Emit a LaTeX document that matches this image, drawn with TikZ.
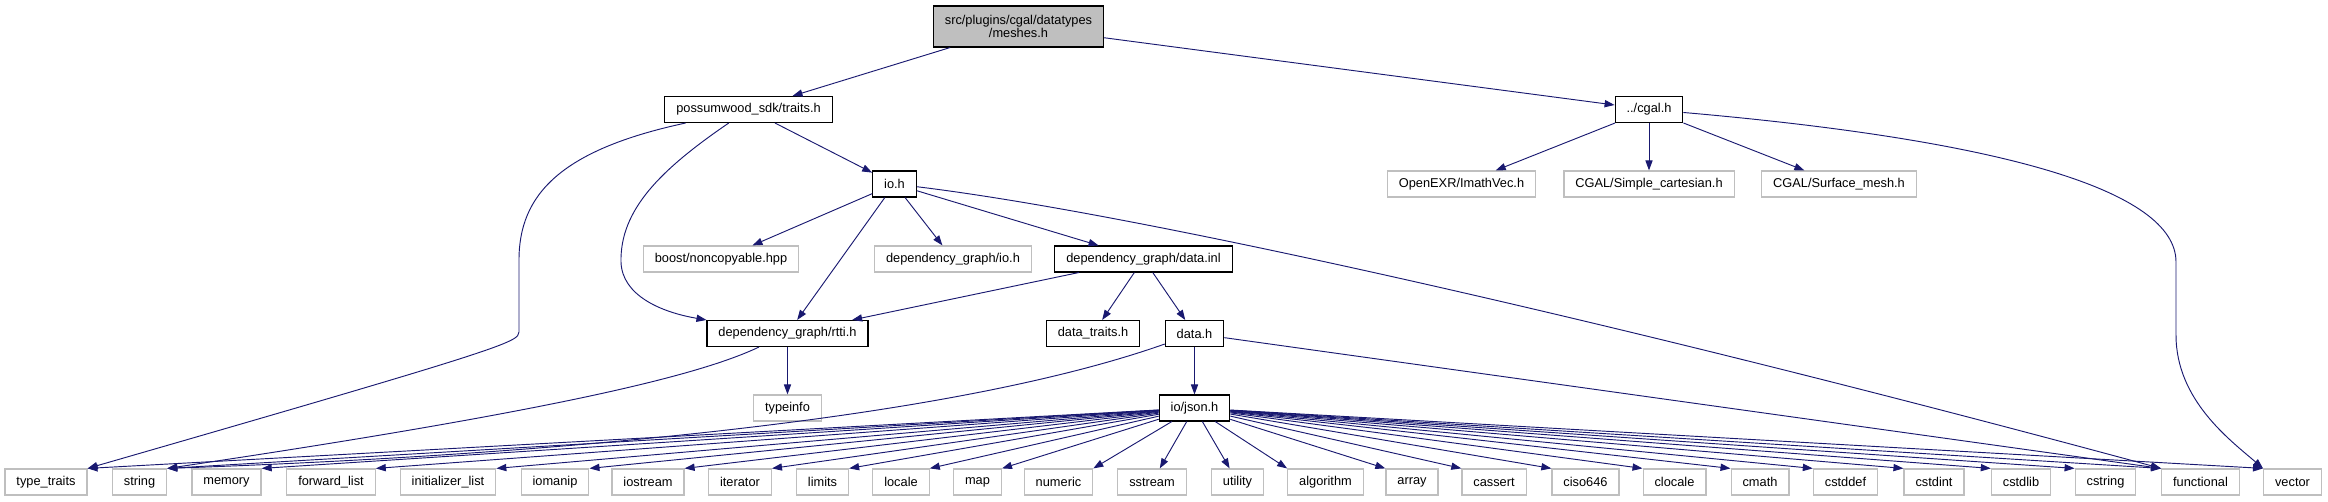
\documentclass[tikz,border=0pt]{standalone}
\usepackage{fontspec}
\setmainfont{Liberation Sans}
\usepackage{tikz}
\usetikzlibrary{arrows.meta}
\usepackage{xcolor}
\definecolor{edgeblue}{HTML}{191970}
\definecolor{greyline}{HTML}{BFBFBF}

\begin{document}
\begin{tikzpicture}[x={(0.75pt,0)}, y={(0,-0.75pt)},
  every node/.style={font=\fontsize{9.6}{10.2}\selectfont, inner xsep=8.6pt, inner ysep=0pt, minimum height=19.5pt},
  ext/.style={draw=greyline, fill=white, line width=0.9pt},
  doc/.style={draw=black, fill=white, line width=0.8pt},
  root/.style={draw=black, fill=greyline, line width=0.8pt, align=center, minimum height=30.75pt},
  dep/.style={draw=edgeblue, line width=0.7pt, -{Triangle[length=7.5pt,width=5.4pt]}}]
\useasboundingbox (0,0) rectangle (2328,501);
% top of the graph
\node[root] (meshes) at (1018.5,26.5) {src/plugins/cgal/datatypes\\/meshes.h};
\node[doc] (traits) at (748.5,109.5) {possumwood\_sdk/traits.h};
\node[doc] (cgal) at (1649,109.5) {../cgal.h};
\node[doc] (ioh) at (894.5,184) {io.h};
\node[ext] (imath) at (1461.5,184) {OpenEXR/ImathVec.h};
\node[ext] (simplecart) at (1649,184) {CGAL/Simple\_cartesian.h};
\node[ext] (surfmesh) at (1839,184) {CGAL/Surface\_mesh.h};
\node[ext] (boost) at (721,259) {boost/noncopyable.hpp};
\node[ext] (dgio) at (953,259) {dependency\_graph/io.h};
\node[doc] (datainl) at (1143.5,259) {dependency\_graph/data.inl};
\node[doc] (rtti) at (787.5,333.5) {dependency\_graph/rtti.h};
\node[doc] (datatraits) at (1093,333.5) {data\_traits.h};
\node[doc] (datah) at (1194.5,333.5) {data.h};
\node[ext] (typeinfo) at (787.5,408) {typeinfo};
\node[doc] (json) at (1194.5,408) {io/json.h};
% bottom row
\node[ext] (typetraits) at (46,482) {type\_traits}; \node[ext] (string) at (139.5,482) {string};
\node[ext] (memory) at (226.5,482) {memory}; \node[ext] (forwardlist) at (331,482) {forward\_list};
\node[ext] (initlist) at (448,482) {initializer\_list}; \node[ext] (iomanip) at (555,482) {iomanip};
\node[ext] (iostream) at (648,482) {iostream}; \node[ext] (iterator) at (740,482) {iterator};
\node[ext] (limits) at (822.5,482) {limits}; \node[ext] (locale) at (901,482) {locale};
\node[ext] (map) at (977.5,482) {map}; \node[ext] (numeric) at (1058.5,482) {numeric};
\node[ext] (sstream) at (1152,482) {sstream}; \node[ext] (utility) at (1237.5,482) {utility};
\node[ext] (algorithm) at (1325.5,482) {algorithm}; \node[ext] (array) at (1412,482) {array};
\node[ext] (cassert) at (1494,482) {cassert}; \node[ext] (ciso) at (1585.5,482) {ciso646};
\node[ext] (clocale) at (1674.5,482) {clocale}; \node[ext] (cmath) at (1760,482) {cmath};
\node[ext] (cstddef) at (1845.5,482) {cstddef}; \node[ext] (cstdint) at (1934,482) {cstdint};
\node[ext] (cstdlib) at (2021,482) {cstdlib}; \node[ext] (cstring) at (2105.5,482) {cstring};
\node[ext] (functional) at (2200.5,482) {functional}; \node[ext] (vector) at (2292.5,482) {vector};
% includes
\draw[dep] (meshes) -- (traits);
\draw[dep] (meshes) -- (cgal);
\draw[dep] (traits) .. controls (560,150) and (519,195) .. (519,260) -- (519,332) .. controls (519,342) and (505,348) .. (typetraits.north east);
\draw[dep] (traits) .. controls (660,170) and (620,210) .. (621,262) .. controls (622,295) and (660,312) .. (rtti.north west);
\draw[dep] (traits) -- (ioh);
\draw[dep] (cgal) -- (imath);
\draw[dep] (cgal) -- (simplecart);
\draw[dep] (cgal) -- (surfmesh);
\draw[dep] (cgal) .. controls (2000,140) and (2176,190) .. (2176,262) -- (2176,335) .. controls (2176,400) and (2230,440) .. (vector.north west);
\draw[dep] (ioh) -- (boost);
\draw[dep] (ioh) -- (rtti);
\draw[dep] (ioh) -- (dgio);
\draw[dep] (ioh) -- (datainl);
\draw[dep] (ioh) .. controls (1150,215) and (1650,330) .. (functional.north west);
\draw[dep] (datainl) -- (rtti);
\draw[dep] (datainl) -- (datatraits);
\draw[dep] (datainl) -- (datah);
\draw[dep] (rtti) -- (typeinfo);
\draw[dep] (rtti) .. controls (700,375) and (560,410) .. (string.north east);
\draw[dep] (datah) -- (json);
\draw[dep] (datah) .. controls (950,420) and (550,455) .. (string.north east);
\draw[dep] (datah) -- (functional.north west);
% json fan
\draw[dep] (json) -- (typetraits.north east); \draw[dep] (json) -- (string.north east);
\draw[dep] (json) -- (memory.north east); \draw[dep] (json) -- (forwardlist.north east);
\draw[dep] (json) -- (initlist.north east); \draw[dep] (json) -- (iomanip.north east);
\draw[dep] (json) -- (iostream.north east); \draw[dep] (json) -- (iterator.north east);
\draw[dep] (json) -- (limits.north east); \draw[dep] (json) -- (locale.north east);
\draw[dep] (json) -- (map.north east); \draw[dep] (json) -- (numeric.north east);
\draw[dep] (json) -- (sstream); \draw[dep] (json) -- (utility);
\draw[dep] (json) -- (algorithm.north west); \draw[dep] (json) -- (array.north west);
\draw[dep] (json) -- (cassert.north west); \draw[dep] (json) -- (ciso.north west);
\draw[dep] (json) -- (clocale.north west); \draw[dep] (json) -- (cmath.north west);
\draw[dep] (json) -- (cstddef.north west); \draw[dep] (json) -- (cstdint.north west);
\draw[dep] (json) -- (cstdlib.north west); \draw[dep] (json) -- (cstring.north west);
\draw[dep] (json) -- (functional.north west); \draw[dep] (json) -- (vector.north west);
\end{tikzpicture}
\end{document}
